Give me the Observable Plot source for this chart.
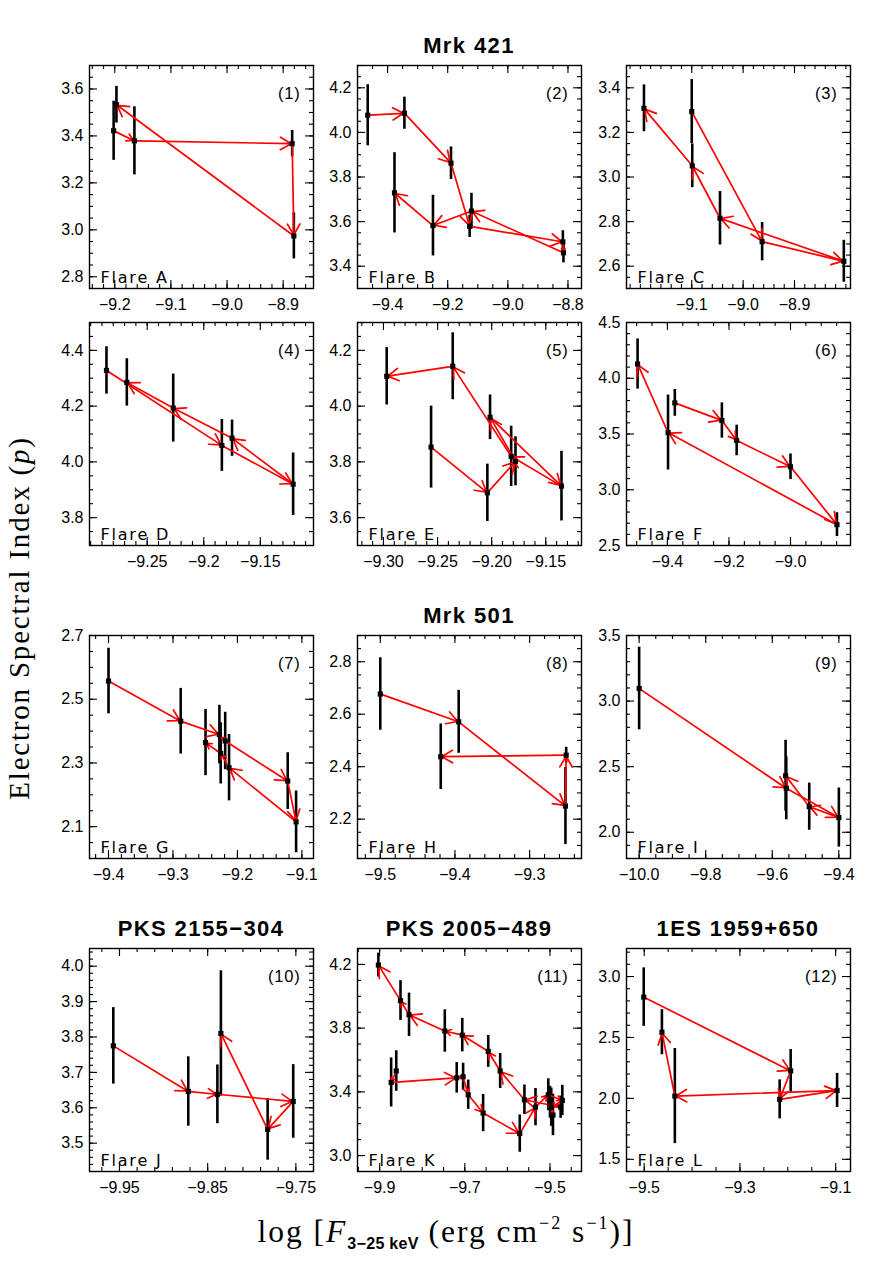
<!DOCTYPE html>
<html><head><meta charset="utf-8">
<script src="https://cdn.jsdelivr.net/npm/d3@7"></script>
<script src="https://cdn.jsdelivr.net/npm/@observablehq/plot@0.6"></script>
<style>
body{margin:0;background:#fff;}
#fig{position:relative;width:894px;height:1267px;background:#fff;overflow:hidden;}
.panel{position:absolute;}
.title{position:absolute;font-family:"Liberation Sans",Arial,sans-serif;font-weight:bold;font-size:22px;letter-spacing:1.4px;transform:translate(-50%,-50%);white-space:nowrap;}
.ylab{position:absolute;font-family:"Liberation Serif","Times New Roman",serif;font-size:29px;white-space:nowrap;transform:translate(-50%,-50%) rotate(-90deg);letter-spacing:1.8px;}
.xlab{position:absolute;font-family:"Liberation Serif","Times New Roman",serif;font-size:31.5px;white-space:nowrap;transform:translate(-50%,-50%);letter-spacing:2px;}
.xlab sub{font-family:"Liberation Sans",Arial,sans-serif;font-weight:bold;font-size:16px;vertical-align:-7px;letter-spacing:0.3px;}
.xlab sup{font-size:18px;vertical-align:13px;}
.flare text{letter-spacing:1.8px;}
.pnum text{letter-spacing:0.8px;}
</style></head><body><div id="fig"></div>
<script>
// ---------- data ----------
const panelNumbers = ["(1)","(2)","(3)","(4)","(5)","(6)","(7)","(8)","(9)","(10)","(11)","(12)"];
const flareNames = ["Flare A","Flare B","Flare C","Flare D","Flare E","Flare F","Flare G","Flare H","Flare I","Flare J","Flare K","Flare L"];
const sourceTitles = ["Mrk 421","Mrk 501","PKS 2155\u2212304","PKS 2005\u2212489","1ES 1959+650"];
const yAxisTitle = "Electron Spectral Index (";

// Flare A
const xA = [-9.202, -9.197, -9.165, -8.884, -8.881];
const yA = [3.422, 3.533, 3.379, 3.367, 2.974];
const eA = [0.126, 0.078, 0.145, 0.056, 0.098];
const oA = [0, 2, 3, 4, 1];
// Flare B
const xB = [-9.466, -9.344, -9.189, -9.127, -9.121, -8.817, -8.815, -9.249, -9.377];
const yB = [4.077, 4.086, 3.862, 3.579, 3.647, 3.509, 3.460, 3.582, 3.729];
const eB = [0.137, 0.072, 0.073, 0.05, 0.08, 0.05, 0.045, 0.136, 0.18];
const oB = [0, 1, 2, 3, 5, 6, 4, 7, 8];
// Flare C
const xC = [-9.193, -9.100, -9.099, -9.045, -8.963, -8.804];
const yC = [3.308, 3.293, 3.050, 2.815, 2.710, 2.622];
const eC = [0.105, 0.144, 0.098, 0.12, 0.086, 0.094];
const oC = [1, 4, 5, 3, 2, 0];
// Flare D
const xD = [-9.286, -9.268, -9.227, -9.184, -9.175, -9.121];
const yD = [4.328, 4.285, 4.193, 4.059, 4.085, 3.920];
const eD = [0.085, 0.085, 0.122, 0.093, 0.065, 0.112];
const oD = [0, 3, 5, 4, 2, 1];
// Flare E
const xE = [-9.297, -9.236, -9.256, -9.204, -9.2015, -9.182, -9.178, -9.1355];
const yE = [4.107, 4.143, 3.853, 3.689, 3.960, 3.820, 3.802, 3.713];
const eE = [0.103, 0.12, 0.147, 0.103, 0.08, 0.108, 0.088, 0.125];
const oE = [2, 3, 6, 4, 7, 5, 1, 0];
// Flare F
const xF = [-9.497, -9.398, -9.376, -9.223, -9.175, -9.000, -8.849];
const yF = [4.128, 3.513, 3.779, 3.621, 3.442, 3.206, 2.687];
const eF = [0.225, 0.336, 0.12, 0.158, 0.137, 0.115, 0.107];
const oF = [2, 3, 4, 5, 6, 1, 0];
// Flare G
const xG = [-9.400, -9.288, -9.2495, -9.228, -9.226, -9.219, -9.213, -9.122, -9.109];
const yG = [2.557, 2.431, 2.364, 2.389, 2.330, 2.369, 2.285, 2.243, 2.115];
const eG = [0.103, 0.103, 0.104, 0.092, 0.096, 0.09, 0.104, 0.089, 0.097];
const oG = [0, 1, 3, 5, 7, 8, 6, 4, 2];
// Flare H
const xH = [-9.500, -9.419, -9.395, -9.251, -9.252];
const yH = [2.677, 2.438, 2.571, 2.444, 2.250];
const eH = [0.138, 0.125, 0.12, 0.03, 0.147];
const oH = [0, 2, 4, 3, 1];
// Flare I
const xI = [-10.000, -9.560, -9.558, -9.489, -9.400];
const yI = [3.096, 2.431, 2.335, 2.195, 2.112];
const eI = [0.315, 0.27, 0.24, 0.18, 0.225];
const oI = [0, 2, 4, 3, 1];
// Flare J
const xJ = [-9.957, -9.872, -9.839, -9.835, -9.782, -9.753];
const yJ = [3.775, 3.646, 3.638, 3.810, 3.539, 3.618];
const eJ = [0.108, 0.098, 0.083, 0.177, 0.087, 0.104];
const oJ = [0, 1, 2, 5, 4, 3];
// Flare K
const xK = [-9.861, -9.873, -9.719, -9.704, -9.692, -9.657, -9.571, -9.534, -9.504, -9.471, -9.497, -9.493, -9.500, -9.475, -9.560, -9.617, -9.645, -9.706, -9.747, -9.831, -9.851, -9.903];
const yK = [3.531, 3.459, 3.488, 3.495, 3.382, 3.267, 3.138, 3.304, 3.382, 3.346, 3.304, 3.255, 3.335, 3.304, 3.350, 3.531, 3.654, 3.756, 3.782, 3.884, 3.973, 4.196];
const eK = [0.127, 0.154, 0.096, 0.085, 0.092, 0.117, 0.117, 0.117, 0.10, 0.095, 0.12, 0.13, 0.10, 0.07, 0.093, 0.11, 0.10, 0.105, 0.133, 0.136, 0.125, 0.075];
const oK = [0,1,2,3,4,5,6,7,8,9,10,11,12,13,14,15,16,17,18,19,20,21];
// Flare L
const xL = [-9.501, -9.463, -9.436, -9.217, -9.194, -9.097];
const yL = [2.831, 2.543, 2.019, 1.992, 2.226, 2.065];
const eL = [0.24, 0.185, 0.39, 0.16, 0.175, 0.14];
const oL = [0, 4, 3, 5, 2, 1];

// axes
const xDomains = [[-9.245,-8.846],[-9.50,-8.755],[-9.227,-8.791],[-9.301,-9.103],[-9.324,-9.117],[-9.533,-8.805],
                  [-9.4295,-9.082],[-9.5305,-9.2305],[-10.038,-9.365],[-9.984,-9.73],[-9.952,-9.426],[-9.537,-9.069]];
const yDomains = [[2.75,3.70],[3.30,4.30],[2.50,3.50],[3.70,4.50],[3.50,4.30],[2.50,4.50],
                  [2.0,2.7],[2.05,2.90],[1.8,3.5],[3.42,4.05],[2.9,4.3],[1.4,3.23]];
const xTickValues = [[-9.2,-9.1,-9.0,-8.9],[-9.4,-9.2,-9.0,-8.8],[-9.1,-9.0,-8.9],[-9.25,-9.2,-9.15],[-9.30,-9.25,-9.20,-9.15],[-9.4,-9.2,-9.0],
                     [-9.4,-9.3,-9.2,-9.1],[-9.5,-9.4,-9.3],[-10.0,-9.8,-9.6,-9.4],[-9.95,-9.85,-9.75],[-9.9,-9.7,-9.5],[-9.5,-9.3,-9.1]];
const yTickValues = [[2.8,3.0,3.2,3.4,3.6],[3.4,3.6,3.8,4.0,4.2],[2.6,2.8,3.0,3.2,3.4],[3.8,4.0,4.2,4.4],[3.6,3.8,4.0,4.2],[2.5,3.0,3.5,4.0,4.5],
                     [2.1,2.3,2.5,2.7],[2.2,2.4,2.6,2.8],[2.0,2.5,3.0,3.5],[3.5,3.6,3.7,3.8,3.9,4.0],[3.0,3.4,3.8,4.2],[1.5,2.0,2.5,3.0]];
const xMinorSteps = [0.02,0.05,0.02,0.01,0.01,0.05,0.02,0.02,0.05,0.02,0.05,0.05];
const yMinorSteps = [0.05,0.05,0.05,0.05,0.05,0.1,0.05,0.05,0.1,0.02,0.1,0.1];
const xFormats = [".1f",".1f",".1f",".2~f",".2f",".1f",".1f",".1f",".1f",".2f",".1f",".1f"];

const series = [[xA,yA,eA,oA],[xB,yB,eB,oB],[xC,yC,eC,oC],[xD,yD,eD,oD],[xE,yE,eE,oE],[xF,yF,eF,oF],
                [xG,yG,eG,oG],[xH,yH,eH,oH],[xI,yI,eI,oI],[xJ,yJ,eJ,oJ],[xK,yK,eK,oK],[xL,yL,eL,oL]];

// ---------- layout ----------
const colLeft = [89, 357, 626];
const rowTop = [65, 322, 635, 948];
const W = 224, H = 223;
const ML = 50, MR = 10, MT = 10, MB = 30;

function stepTicks(lo, hi, step, origin) {
  const out = [];
  const k0 = Math.ceil((lo - origin) / step - 1e-9), k1 = Math.floor((hi - origin) / step + 1e-9);
  for (let k = k0; k <= k1; k++) out.push(+(origin + k * step).toFixed(6));
  return out;
}

const fig = document.getElementById("fig");

series.forEach(([xs, ys, es, order], i) => {
  const pts = xs.map((x, j) => ({x, y: ys[j], e: es[j]}));
  const segs = [];
  for (let k = 0; k < order.length - 1; k++) {
    const a = pts[order[k]], b = pts[order[k + 1]];
    segs.push({x1: a.x, y1: a.y, x2: b.x, y2: b.y});
  }
  const xd = xDomains[i], yd = yDomains[i];
  const xMaj = xTickValues[i], yMaj = yTickValues[i];
  const xMin = stepTicks(xd[0], xd[1], xMinorSteps[i], xMaj[0]);
  const yMin = stepTicks(yd[0], yd[1], yMinorSteps[i], yMaj[0]);
  const fmt = d3.format(xFormats[i]);
  const yfmt = d3.format(".1f");
  const chart = Plot.plot({
    width: ML + W + MR, height: MT + H + MB,
    marginLeft: ML, marginRight: MR, marginTop: MT, marginBottom: MB,
    x: {domain: xd}, y: {domain: yd},
    style: {background: "transparent", fontFamily: "'Liberation Sans', Arial, sans-serif", fontSize: "16px", color: "black", overflow: "visible"},
    marks: [
      Plot.tickX(xMin, {x: d => d, insetTop: H - 4, strokeWidth: 1.1}),
      Plot.tickX(xMin, {x: d => d, insetBottom: H - 4, strokeWidth: 1.1}),
      Plot.tickX(xMaj, {x: d => d, insetTop: H - 8, strokeWidth: 1.1}),
      Plot.tickX(xMaj, {x: d => d, insetBottom: H - 8, strokeWidth: 1.1}),
      Plot.tickY(yMin, {y: d => d, insetRight: W - 4, strokeWidth: 1.1}),
      Plot.tickY(yMin, {y: d => d, insetLeft: W - 4, strokeWidth: 1.1}),
      Plot.tickY(yMaj, {y: d => d, insetRight: W - 8, strokeWidth: 1.1}),
      Plot.tickY(yMaj, {y: d => d, insetLeft: W - 8, strokeWidth: 1.1}),
      Plot.axisX(xMaj, {tickSize: 0, tickPadding: 10, tickFormat: fmt, label: null}),
      Plot.axisY(yMaj, {tickSize: 0, tickPadding: 6, tickFormat: yfmt, label: null}),
      Plot.frame({stroke: "black", strokeWidth: 1.4}),
      Plot.ruleX(pts, {x: "x", y1: d => d.y - d.e, y2: d => d.y + d.e, stroke: "black", strokeWidth: 2.6}),
      Plot.arrow(segs, {x1: "x1", y1: "y1", x2: "x2", y2: "y2", stroke: "#ff0000", strokeWidth: 1.7,
                        headLength: 11, headAngle: 60, insetStart: 2, insetEnd: 1}),
      Plot.dot(pts, {x: "x", y: "y", symbol: "square", r: 2.9, fill: "black", stroke: null}),
      Plot.text([panelNumbers[i]], {frameAnchor: "top-right", textAnchor: "end", lineAnchor: "middle", dx: -13, dy: 28,
                 fontSize: 16.5, fontFamily: "'Liberation Sans', Arial, sans-serif", className: "pnum"}),
      Plot.text([flareNames[i]], {frameAnchor: "bottom-left", textAnchor: "start", lineAnchor: "bottom", dx: 11, dy: -6,
                 fontSize: 16, fontFamily: "'DejaVu Sans', sans-serif", className: "flare"})
    ]
  });
  chart.classList.add("panel");
  chart.style.left = (colLeft[i % 3] - ML) + "px";
  chart.style.top = (rowTop[Math.floor(i / 3)] - MT) + "px";
  fig.appendChild(chart);
});

// titles
function addTitle(txt, cx, cy) {
  const d = document.createElement("div");
  d.className = "title"; d.textContent = txt;
  d.style.left = cx + "px"; d.style.top = cy + "px";
  fig.appendChild(d);
}
const colCenter = colLeft.map(l => l + W / 2);
addTitle(sourceTitles[0], colCenter[1], rowTop[0] - 19);
addTitle(sourceTitles[1], colCenter[1], rowTop[2] - 19);
addTitle(sourceTitles[2], colCenter[0], rowTop[3] - 19);
addTitle(sourceTitles[3], colCenter[1], rowTop[3] - 19);
addTitle(sourceTitles[4], colCenter[2], rowTop[3] - 19);

const yl = document.createElement("div");
yl.className = "ylab";
yl.innerHTML = yAxisTitle + "<i>p</i>)";
yl.style.left = "19px"; yl.style.top = "618px";
fig.appendChild(yl);

const xl = document.createElement("div");
xl.className = "xlab";
xl.innerHTML = "log [<i>F</i><sub>3\u221225 keV</sub> (erg cm<sup>\u22122</sup> s<sup>\u22121</sup>)]";
xl.style.left = "446px"; xl.style.top = "1233px";
fig.appendChild(xl);
</script>
</body></html>
